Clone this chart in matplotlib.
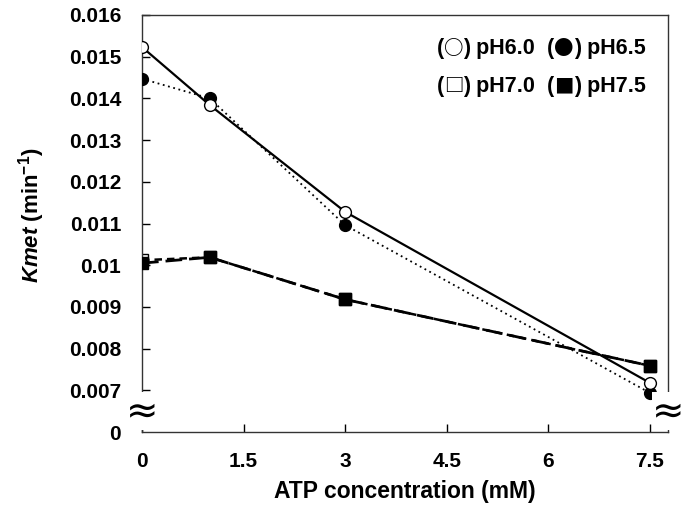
import matplotlib.pyplot as plt

plt.rcParams['font.family'] = ['Liberation Sans', 'DejaVu Sans']
plt.rcParams['mathtext.fontset'] = 'custom'
plt.rcParams['mathtext.it'] = 'Liberation Sans:italic:bold'
plt.rcParams['mathtext.rm'] = 'Liberation Sans:bold'
plt.rcParams['mathtext.bf'] = 'Liberation Sans:bold'

# ATP concentration (mM)
atp = [0, 1, 3, 7.5]
# Kmet (min-1) for each pH
ph60 = [0.01523, 0.01384, 0.01128, 0.00718]
ph65 = [0.01447, 0.01400, 0.01096, 0.00694]
ph70 = [0.01012, 0.01019, 0.00918, 0.00759]
ph75 = [0.01005, 0.01019, 0.00918, 0.00759]

y_ticks = [0.006, 0.007, 0.008, 0.009, 0.010, 0.011, 0.012, 0.013, 0.014, 0.015, 0.016]
y_labels = ['0', '0.007', '0.008', '0.009', '0.01', '0.011', '0.012', '0.013', '0.014', '0.015', '0.016']
x_ticks = [0, 1.5, 3, 4.5, 6, 7.5]
x_labels = ['0', '1.5', '3', '4.5', '6', '7.5']

# legend rows: (symbol, label) pairs
legend_rows = [[('\u25cb', 'pH6.0'), ('\u25cf', 'pH6.5')],
               [('\u25a1', 'pH7.0'), ('\u25a0', 'pH7.5')]]

fig = plt.figure(figsize=(6.86, 5.15), dpi=100)
ax = fig.add_axes([0.207, 0.161, 0.767, 0.810])

ax.plot(atp, ph70, color='black', lw=1.8, ls=(0, (3, 2)), marker='s', ms=8.5,
        mfc='white', mec='black', zorder=2)
ax.plot(atp, ph75, color='black', lw=2.0, ls=(0, (6, 2.5)), marker='s', ms=8.5,
        mfc='black', mec='black', zorder=3)
ax.plot(atp, ph65, color='black', lw=1.3, ls=(0, (1, 2)), marker='o', ms=8.5,
        mfc='black', mec='black', zorder=4)
ax.plot(atp, ph60, color='black', lw=1.6, ls='-', marker='o', ms=8.5,
        mfc='white', mec='black', mew=1.0, zorder=5)

ax.set_xlim(0, 7.77)
ax.set_ylim(0.006, 0.016)
ax.set_xticks(x_ticks)
ax.set_xticklabels(x_labels)
ax.set_yticks(y_ticks)
ax.set_yticklabels(y_labels)
ax.tick_params(direction='in', length=6, width=1, labelsize=15)
ax.tick_params(axis='x', pad=14)
ax.tick_params(axis='y', pad=15)
for lab in ax.get_xticklabels() + ax.get_yticklabels():
    lab.set_fontweight('bold')
ax.yaxis.get_major_ticks()[0].tick1line.set_visible(False)
for sp in ax.spines.values():
    sp.set_linewidth(1.0)
    sp.set_color('#333333')

ax.set_xlabel('ATP concentration (mM)', fontsize=16.5, fontweight='bold')
ax.set_ylabel(r'$\mathit{Kmet}$ (min$^{-1}$)', fontsize=16, fontweight='bold')
ax.xaxis.set_label_coords(0.5, -0.115)
ax.yaxis.set_label_coords(-0.18, 0.52)

# axis break marks
for xb in (0.0, 1.0):
    ax.text(xb, 0.0065, '\u2248', transform=ax.get_yaxis_transform(),
            ha='center', va='center', fontsize=28,
            family='DejaVu Sans', clip_on=False, zorder=6,
            bbox=dict(boxstyle='square,pad=0.0', fc='white', ec='none'))

# legend written as text, symbols from a CJK font so they are full size
fig.canvas.draw()
for row, yrow in zip(legend_rows, (0.906, 0.815)):
    prev = None
    for i, (sym, name) in enumerate(row):
        pieces = [('(' if i == 0 else '  (', 'Liberation Sans', 15.5),
                  (sym, 'Noto Sans CJK JP', 14),
                  (') ' + name, 'Liberation Sans', 15.5)]
        for txt, fam, size in pieces:
            if prev is None:
                prev = ax.text(0.56, yrow, txt, transform=ax.transAxes,
                               ha='left', va='baseline', fontsize=size,
                               fontweight='bold', family=fam)
            else:
                prev = ax.annotate(txt, xy=(1, yrow),
                                   xycoords=(prev, ax.transAxes),
                                   ha='left', va='baseline', fontsize=size,
                                   fontweight='bold', family=fam)
            fig.canvas.draw()

fig.savefig('out.png', dpi=100)
